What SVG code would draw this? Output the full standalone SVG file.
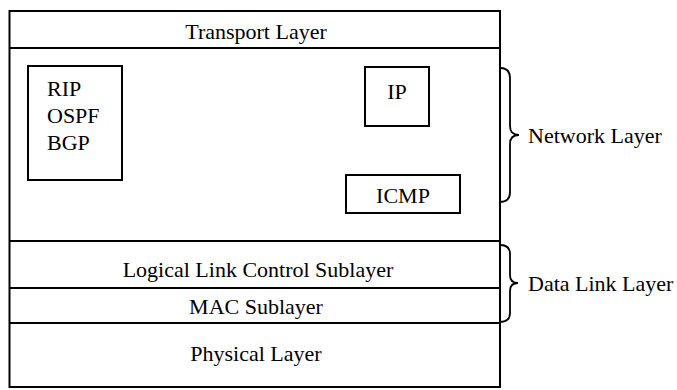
<svg xmlns="http://www.w3.org/2000/svg" width="677" height="390" viewBox="0 0 677 390">
<style>
.box{fill:none;stroke:#000;stroke-width:2}
.ln{stroke:#000;stroke-width:2}
.br{fill:none;stroke:#000;stroke-width:1.8}
text{font-family:"Liberation Serif","Times New Roman",serif;font-size:22px;fill:#000}
.c{text-anchor:middle}
</style>
<rect width="677" height="390" fill="#fff"/>
<g id="stack">
<rect class="box" x="9.5" y="11" width="490.5" height="376"/>
<line class="ln" x1="9.5" y1="48" x2="500" y2="48"/>
<line class="ln" x1="9.5" y1="241" x2="500" y2="241"/>
<line class="ln" x1="9.5" y1="288" x2="500" y2="288"/>
<line class="ln" x1="9.5" y1="323" x2="500" y2="323"/>
</g>
<g id="transport"><text class="c" x="256" y="39">Transport Layer</text></g>
<g id="routing">
<rect class="box" x="28" y="66" width="94" height="114"/>
<text x="47" y="96">RIP</text>
<text x="47" y="123">OSPF</text>
<text x="47" y="150">BGP</text>
</g>
<g id="ip">
<rect class="box" x="365" y="67" width="64" height="59"/>
<text class="c" x="397" y="99">IP</text>
</g>
<g id="icmp">
<rect class="box" x="346" y="175" width="114" height="38"/>
<text class="c" x="403" y="203">ICMP</text>
</g>
<g id="llc"><text class="c" x="258" y="277">Logical Link Control Sublayer</text></g>
<g id="mac"><text class="c" x="256" y="314">MAC Sublayer</text></g>
<g id="physical"><text class="c" x="256" y="361">Physical Layer</text></g>
<g id="connectors">
<path class="br" d="M500,68 Q510,68 510,78 L510,126 Q510,135 519,135 Q510,135 510,144 L510,192 Q510,202 500,202"/>
<path class="br" d="M500,245 Q510,245 510,254 L510,275 Q510,283 518,283 Q510,283 510,291 L510,313 Q510,322 500,322"/>
</g>
<g id="labels">
<text x="528" y="143">Network Layer</text>
<text x="528" y="291">Data Link Layer</text>
</g>
</svg>
